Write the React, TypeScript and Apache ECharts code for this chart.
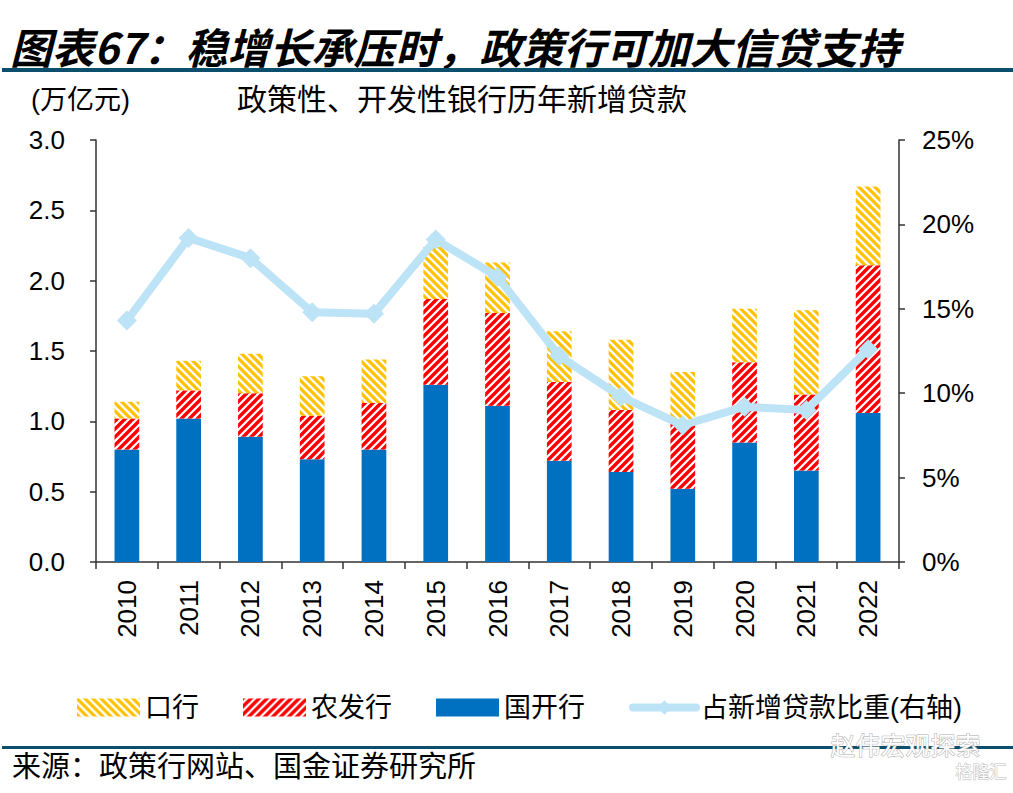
import React, { useEffect, useRef } from "react";
import * as echarts from "echarts";

const years = ["2010", "2011", "2012", "2013", "2014", "2015", "2016", "2017", "2018", "2019", "2020", "2021", "2022"];
const cdb = [0.8, 1.02, 0.89, 0.73, 0.8, 1.26, 1.11, 0.72, 0.64, 0.52, 0.85, 0.65, 1.06];
const adbc = [0.22, 0.2, 0.31, 0.31, 0.33, 0.61, 0.66, 0.56, 0.44, 0.48, 0.57, 0.54, 1.05];
const exim = [0.12, 0.21, 0.28, 0.28, 0.31, 0.37, 0.36, 0.36, 0.5, 0.35, 0.38, 0.6, 0.56];
const share = [14.3, 19.2, 18.0, 14.8, 14.7, 19.1, 16.9, 12.2, 9.8, 8.1, 9.2, 9.0, 12.6];
const leftTicks = { min: 0, max: 3, interval: 0.5 };
const rightTicks = { min: 0, max: 25, interval: 5 };

const NUM_FONT = "'Liberation Sans', Arial, 'Noto Sans CJK SC', sans-serif";
const CJK_FONT = "'Liberation Sans', 'Noto Sans CJK SC', sans-serif";

function makeStripe(color: string, dir: "fwd" | "back", w: number): HTMLCanvasElement {
  const s = 8;
  const c = document.createElement("canvas");
  c.width = s;
  c.height = s;
  const g = c.getContext("2d")!;
  g.fillStyle = "#ffffff";
  g.fillRect(0, 0, s, s);
  g.strokeStyle = color;
  g.lineWidth = w;
  g.beginPath();
  if (dir === "fwd") {
    g.moveTo(-2, s + 2); g.lineTo(s + 2, -2);
    g.moveTo(-2, 2); g.lineTo(2, -2);
    g.moveTo(s - 2, s + 2); g.lineTo(s + 2, s - 2);
  } else {
    g.moveTo(-2, -2); g.lineTo(s + 2, s + 2);
    g.moveTo(s - 2, -2); g.lineTo(s + 2, 2);
    g.moveTo(-2, s - 2); g.lineTo(2, s + 2);
  }
  g.stroke();
  return c;
}

export default function App() {
  const ref = useRef<HTMLDivElement>(null);
  useEffect(() => {
    if (!ref.current) return;
    const chart = echarts.init(ref.current, undefined, { renderer: "svg" });
    const redPat = { image: makeStripe("#FF0000", "fwd", 3.4), repeat: "repeat" } as any;
    const yelPat = { image: makeStripe("#FFC000", "back", 3.2), repeat: "repeat" } as any;
    const axisColor = "#333333";
    const lineColor = "#BDE3F7";
    chart.setOption({
      animation: false,
      backgroundColor: "#ffffff",
      grid: { left: 96, right: 114, top: 140, bottom: 231, containLabel: false },
      legend: {
        left: 72,
        top: 689,
        itemWidth: 63,
        itemHeight: 18,
        itemGap: 44,
        data: [
          { name: "口行", icon: "rect" },
          { name: "农发行", icon: "rect" },
          { name: "国开行", icon: "rect" },
          { name: "占新增贷款比重(右轴)", lineStyle: { width: 8, cap: "round", color: lineColor } },
        ],
        textStyle: { fontSize: 27, color: "#000", fontFamily: CJK_FONT },
      },
      xAxis: {
        type: "category",
        data: years,
        axisLine: { show: true, lineStyle: { color: axisColor, width: 1.5 } },
        axisTick: { show: true, length: 7, lineStyle: { color: axisColor, width: 1.5 } },
        axisLabel: { rotate: 90, margin: 18, fontSize: 26, color: "#000", fontFamily: NUM_FONT },
      },
      yAxis: [
        {
          type: "value",
          ...leftTicks,
          axisLine: { show: true, lineStyle: { color: axisColor, width: 1.5 } },
          axisTick: { show: true, length: 6, lineStyle: { color: axisColor, width: 1.5 } },
          splitLine: { show: false },
          axisLabel: { margin: 31, fontSize: 26, color: "#000", fontFamily: NUM_FONT, formatter: (v: number) => v.toFixed(1) },
        },
        {
          type: "value",
          ...rightTicks,
          position: "right",
          axisLine: { show: true, lineStyle: { color: axisColor, width: 1.5 } },
          axisTick: { show: true, length: 6, lineStyle: { color: axisColor, width: 1.5 } },
          splitLine: { show: false },
          axisLabel: { margin: 23, fontSize: 26, color: "#000", fontFamily: NUM_FONT, formatter: "{value}%" },
        },
      ],
      series: [
        {
          name: "国开行",
          type: "bar",
          stack: "a",
          barWidth: "40%",
          data: cdb,
          itemStyle: { color: "#0070C0" },
        },
        {
          name: "农发行",
          type: "bar",
          stack: "a",
          barWidth: "40%",
          data: adbc,
          itemStyle: { color: redPat },
        },
        {
          name: "口行",
          type: "bar",
          stack: "a",
          barWidth: "40%",
          data: exim,
          itemStyle: { color: yelPat },
        },
        {
          name: "占新增贷款比重(右轴)",
          type: "line",
          yAxisIndex: 1,
          data: share,
          symbol: "diamond",
          symbolSize: 20,
          lineStyle: { color: lineColor, width: 8 },
          itemStyle: { color: lineColor },
          z: 5,
        },
      ],
      graphic: [
        {
          type: "text",
          left: 10,
          top: 24,
          style: {
            text: "图表67：稳增长承压时，政策行可加大信贷支持",
            fontSize: 42,
            fontWeight: "bold",
            fontStyle: "italic",
            fontFamily: "'Noto Sans CJK SC', sans-serif",
            fill: "#000",
          },
        },
        { type: "rect", left: 2, top: 68, shape: { width: 1011, height: 4 }, style: { fill: "#0B4F6C" } },
        {
          type: "text",
          left: 31,
          top: 86,
          style: { text: "(万亿元)", fontSize: 27, fontFamily: CJK_FONT, fill: "#000" },
        },
        {
          type: "text",
          left: 237,
          top: 84,
          style: { text: "政策性、开发性银行历年新增贷款", fontSize: 30, fontFamily: CJK_FONT, fill: "#000" },
        },
        { type: "rect", left: 2, top: 746, shape: { width: 1011, height: 3 }, style: { fill: "#0B4F6C" } },
        {
          type: "text",
          left: 830,
          top: 733,
          style: { text: "赵伟宏观探索", fontSize: 25, fontFamily: CJK_FONT, fill: "#ffffff", stroke: "#aaaaaa", lineWidth: 1 },
        },
        {
          type: "text",
          left: 955,
          top: 763,
          style: { text: "格隆汇", fontSize: 17, fontFamily: CJK_FONT, fill: "#ffffff", stroke: "#bbbbbb", lineWidth: 1 },
        },
        {
          type: "text",
          left: 12,
          top: 752,
          style: { text: "来源：政策行网站、国金证券研究所", fontSize: 29, fontFamily: CJK_FONT, fill: "#000" },
        },
      ],
    });
    return () => chart.dispose();
  }, []);
  return <div ref={ref} style={{ position: "fixed", left: 0, top: 0, width: 1013, height: 793 }} />;
}
